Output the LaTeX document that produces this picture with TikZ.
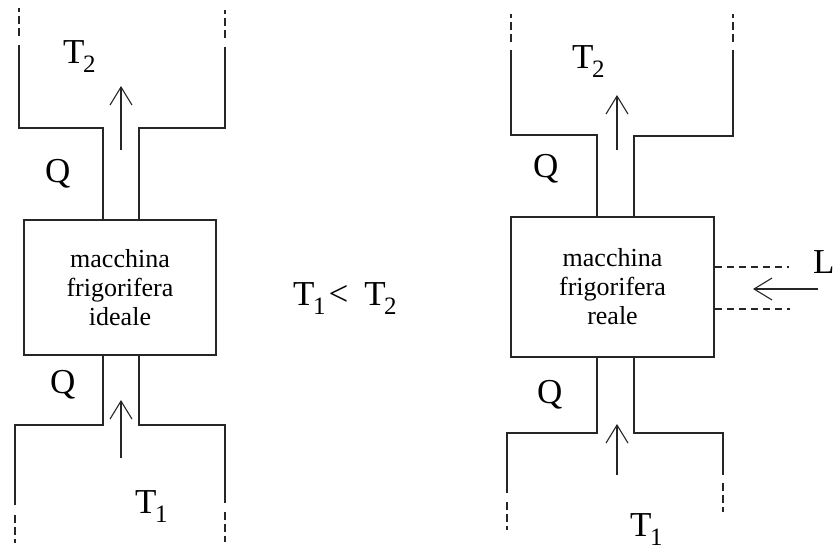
\documentclass[tikz,border=0pt]{standalone}
\usepackage{fontspec}
\setmainfont{Liberation Serif}
\usetikzlibrary{arrows.meta}
\newcommand\Tsub[1]{T\kern-1.5pt\raisebox{-9pt}{\fontsize{25}{25}\selectfont #1}}
\tikzset{
  wall/.style={line width=1.7pt, draw=black!85},
  wallend/.style={line width=1.7pt, draw=black!85, dash pattern=on 8pt off 4pt},
  guide/.style={line width=1.1pt, draw=black!85, dash pattern=on 7pt off 5pt},
  flow/.style={line width=1.3pt, draw=black!85, -{Straight Barb[length=18pt,width=22pt,line width=1.1pt]}},
  machine/.style={wall, rectangle, inner sep=0pt, align=center,
    font=\fontsize{26}{29}\selectfont},
  lab/.style={inner sep=0pt, anchor=base west, font=\fontsize{35}{35}\selectfont}
}
\begin{document}
\begin{tikzpicture}[x=1pt, y=-1pt]
\useasboundingbox (0,0) rectangle (833,550);
% ---------- left: ideal machine ----------
\node[machine, minimum width=192pt, minimum height=135pt] (boxA) at (120,287.5)
  {macchina\\frigorifera\\ideale};
% top channel and reservoir
\draw[wall] (103,220) -- (103,128) -- (19,128) -- (19,45);
\draw[wallend] (19,36) -- (19,8);
\draw[wall] (139,220) -- (139,128) -- (225,128) -- (225,47);
\draw[wallend] (225,38) -- (225,10);
% bottom channel and reservoir
\draw[wall] (103,355) -- (103,425) -- (15,425) -- (15,505);
\draw[wallend] (15,515) -- (15,543);
\draw[wall] (139,355) -- (139,425) -- (225,425) -- (225,503);
\draw[wallend] (225,512) -- (225,542);
% arrows
\coordinate (a1s) at (121,150); \coordinate (a1e) at (121,86);
\draw[flow] (a1s) -- (a1e);
\coordinate (a2s) at (121,458); \coordinate (a2e) at (121,400);
\draw[flow] (a2s) -- (a2e);
% labels
\node[lab] (T2a) at (63,63) {\Tsub{2}};
\node[lab] (Qa1) at (45,182) {Q};
\node[lab] (Qa2) at (50,393) {Q};
\node[lab] (T1a) at (135,513) {\Tsub{1}};
% ---------- middle ----------
\node[lab] (rel) at (293,305) {\Tsub{1}\kern3pt<\hspace{16pt}\Tsub{2}};
% ---------- right: real machine ----------
\node[machine, minimum width=203pt, minimum height=140pt] (boxB) at (612.5,287)
  {macchina\\frigorifera\\reale};
\draw[wall] (597,217) -- (597,135) -- (511,135) -- (511,50);
\draw[wallend] (511,42) -- (511,14);
\draw[wall] (634,217) -- (634,136) -- (733,136) -- (733,50);
\draw[wallend] (733,42) -- (733,14);
\draw[wall] (597,357) -- (597,433) -- (507,433) -- (507,493);
\draw[wallend] (507,502) -- (507,530);
\draw[wall] (634,357) -- (634,433) -- (723,433) -- (723,475);
\draw[wallend] (723,483) -- (723,512);
\coordinate (b1s) at (617,150); \coordinate (b1e) at (617,95);
\draw[flow] (b1s) -- (b1e);
\coordinate (b2s) at (617,475); \coordinate (b2e) at (617,424);
\draw[flow] (b2s) -- (b2e);
% work input
\coordinate (g1) at (789,267); \coordinate (g2) at (790,309);
\draw[guide] (boxB.east |- g1) -- (g1);
\draw[guide] (boxB.east |- g2) -- (g2);
\coordinate (Ls) at (818,289); \coordinate (Le) at (753,289);
\draw[flow] (Ls) -- (Le);
\node[lab] (T2b) at (572,68) {\Tsub{2}};
\node[lab] (Qb1) at (533,177) {Q};
\node[lab] (Qb2) at (537,403) {Q};
\node[lab] (T1b) at (630,536) {\Tsub{1}};
\node[lab] (L) at (813,273) {L};
\end{tikzpicture}
\end{document}
